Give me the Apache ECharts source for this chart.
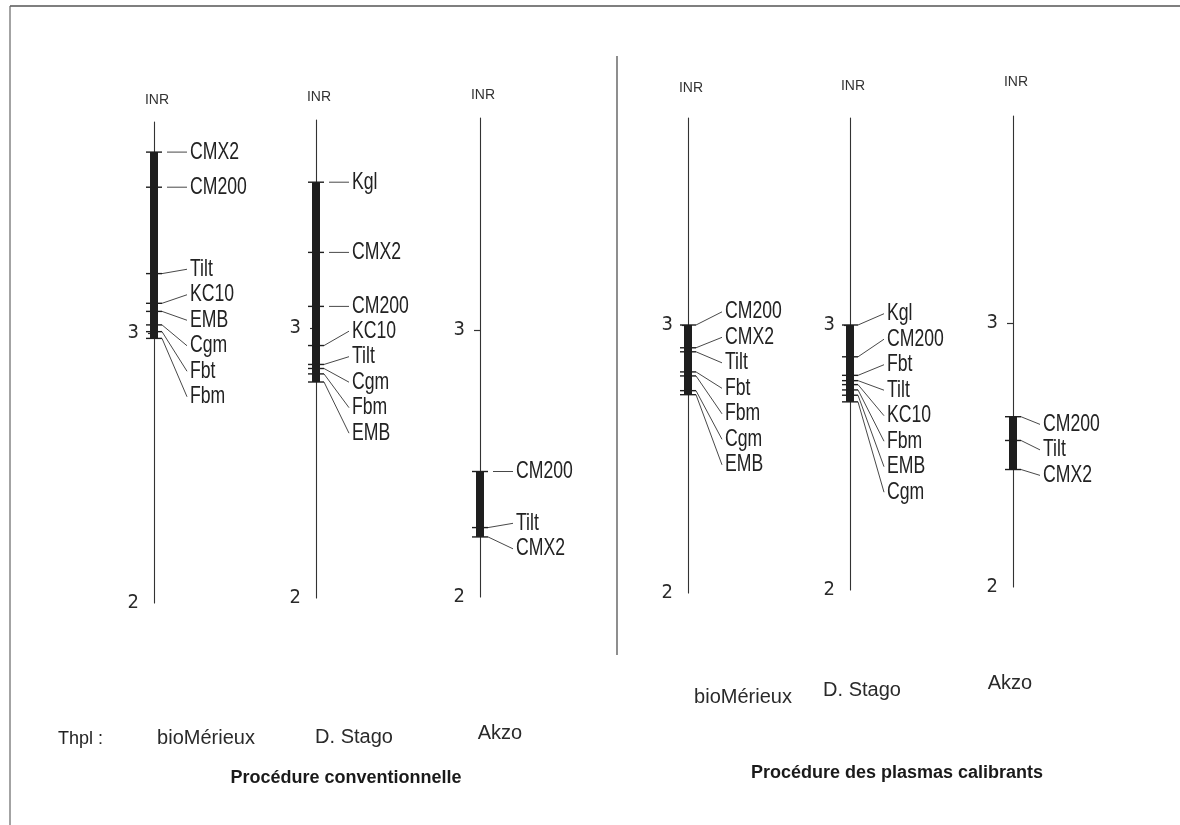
<!DOCTYPE html>
<html>
<head>
<meta charset="utf-8">
<title>INR - thromboplastines</title>
<script src="https://cdn.jsdelivr.net/npm/echarts@6/dist/echarts.min.js"></script>
<style>
  html, body { margin: 0; padding: 0; background: #fff; }
  #chart { width: 1180px; height: 825px; }
</style>
</head>
<body>
<div id="chart"></div>
<script>
// données (INR par réactif)
const thromboplastins = ['bioMérieux', 'D. Stago', 'Akzo'];
const procedures = ['Procédure conventionnelle', 'Procédure des plasmas calibrants'];
const tickValues = [2, 3];

const convBioNames = ['CMX2', 'CM200', 'Tilt', 'KC10', 'EMB', 'Cgm', 'Fbt', 'Fbm'];
const convBioInr = [3.67, 3.54, 3.22, 3.11, 3.08, 3.03, 3.005, 2.98];
const convStagoNames = ['Kgl', 'CMX2', 'CM200', 'KC10', 'Tilt', 'Cgm', 'Fbm', 'EMB'];
const convStagoInr = [3.54, 3.28, 3.08, 2.935, 2.865, 2.85, 2.83, 2.80];
const convAkzoNames = ['CM200', 'Tilt', 'CMX2'];
const convAkzoInr = [2.47, 2.26, 2.225];

const calBioNames = ['CM200', 'CMX2', 'Tilt', 'Fbt', 'Fbm', 'Cgm', 'EMB'];
const calBioInr = [3.00, 2.915, 2.90, 2.825, 2.81, 2.755, 2.74];
const calStagoNames = ['Kgl', 'CM200', 'Fbt', 'Tilt', 'KC10', 'Fbm', 'EMB', 'Cgm'];
const calStagoInr = [3.00, 2.88, 2.81, 2.79, 2.775, 2.755, 2.735, 2.71];
const calAkzoNames = ['CM200', 'Tilt', 'CMX2'];
const calAkzoInr = [2.645, 2.555, 2.445];

const panels = [
  { names: convBioNames, inr: convBioInr },
  { names: convStagoNames, inr: convStagoInr },
  { names: convAkzoNames, inr: convAkzoInr },
  { names: calBioNames, inr: calBioInr },
  { names: calStagoNames, inr: calStagoInr },
  { names: calAkzoNames, inr: calAkzoInr }
];

// mise en page (pixels) : position de chaque axe, le scan est un peu penché
const axisLayout = [
  { x: 154, top: 122, y3: 333, y2: 603, inrY: 100, labelDx: 36 },
  { x: 316, top: 120, y3: 328, y2: 598, inrY: 97, labelDx: 36 },
  { x: 480, top: 118, y3: 330, y2: 597, inrY: 95, labelDx: 36 },
  { x: 688, top: 118, y3: 325, y2: 593, inrY: 88, labelDx: 37 },
  { x: 850, top: 118, y3: 325, y2: 590, inrY: 86, labelDx: 37 },
  { x: 1013, top: 116, y3: 323, y2: 587, inrY: 82, labelDx: 30 }
];

const ink = '#1e1e1e';
const labelFont = '21px "Liberation Sans", Arial, sans-serif';
const narrowFonts = '"Liberation Sans Narrow", "DejaVu Sans Condensed", "Liberation Sans", sans-serif';
const LABEL_GAP = 25.5;

// étiquettes qui se chevauchent : on les regroupe et on les répartit (un peu vers le bas)
function spreadLabels(ys) {
  let clusters = ys.map(y => ({ sum: y, n: 1 }));
  const startOf = c => c.sum / c.n - 0.35 * (c.n - 1) * LABEL_GAP;
  let merged = true;
  while (merged) {
    merged = false;
    for (let i = 1; i < clusters.length; i++) {
      const prev = clusters[i - 1], cur = clusters[i];
      if (startOf(prev) + prev.n * LABEL_GAP > startOf(cur) + 1) {
        prev.sum += cur.sum;
        prev.n += cur.n;
        clusters.splice(i, 1);
        merged = true;
        break;
      }
    }
  }
  const out = [];
  clusters.forEach(c => {
    const s = startOf(c);
    for (let k = 0; k < c.n; k++) out.push(s + k * LABEL_GAP);
  });
  return out;
}

const grids = [], xAxes = [], yAxes = [], series = [];

panels.forEach((p, k) => {
  const L = axisLayout[k];
  grids.push({
    left: L.x, top: L.top, width: 60, height: L.y2 - L.top,
    containLabel: false, outerBoundsMode: 'none'
  });
  xAxes.push({ gridIndex: k, type: 'value', min: 0, max: 1, show: false });
  yAxes.push({
    gridIndex: k,
    type: 'value',
    min: 2,
    max: 2 + (L.y2 - L.top) / (L.y2 - L.y3),
    name: 'INR',
    nameLocation: 'end',
    nameGap: L.top - L.inrY - 7,
    nameTextStyle: { fontSize: 14, color: '#333', fontFamily: '"Liberation Sans", Arial, sans-serif', padding: [0, 0, 0, 6] },
    axisLine: { show: true, lineStyle: { color: '#333', width: 1.1 } },
    axisTick: { show: true, customValues: [3], length: 6, lineStyle: { color: '#333', width: 1.2 } },
    axisLabel: {
      customValues: tickValues,
      margin: 15,
      fontSize: 20,
      color: '#2a2a2a',
      fontFamily: narrowFonts
    },
    splitLine: { show: false }
  });

  const lo = Math.min.apply(null, p.inr);
  const hi = Math.max.apply(null, p.inr);

  // barre épaisse : étendue des INR
  series.push({
    type: 'custom',
    xAxisIndex: k,
    yAxisIndex: k,
    data: [[0, lo, hi]],
    encode: { x: 0, y: [1, 2] },
    silent: true,
    renderItem: (params, api) => {
      const a = api.coord([0, api.value(2)]);
      const b = api.coord([0, api.value(1)]);
      return {
        type: 'rect',
        shape: { x: a[0] - 4, y: a[1], width: 8, height: b[1] - a[1] },
        style: { fill: ink }
      };
    }
  });

  // repères + noms des réactifs
  series.push({
    type: 'custom',
    xAxisIndex: k,
    yAxisIndex: k,
    data: p.inr.map(v => [0, v]),
    encode: { x: 0, y: 1 },
    silent: true,
    renderItem: (params, api) => {
      const i = params.dataIndex;
      const ys = p.inr.map(v => api.coord([0, v])[1]);
      const labelYs = spreadLabels(ys);
      const pt = api.coord([0, api.value(1)]);
      const lx = pt[0] + L.labelDx;
      const ly = labelYs[i];
      const straight = Math.abs(ly - pt[1]) < 3;
      return {
        type: 'group',
        children: [
          {
            type: 'line',
            shape: { x1: pt[0] - 8, y1: pt[1], x2: pt[0] + 8, y2: pt[1] },
            style: { stroke: ink, lineWidth: 1.4 }
          },
          {
            type: 'line',
            shape: { x1: pt[0] + (straight ? 13 : 8), y1: pt[1], x2: lx - 3, y2: ly },
            style: { stroke: '#333', lineWidth: 0.9 }
          },
          {
            type: 'text',
            x: lx,
            y: ly,
            scaleX: 0.84,
            scaleY: 1.12,
            style: {
              x: 0, y: 0,
              text: p.names[i],
              font: labelFont,
              fill: '#222',
              verticalAlign: 'middle',
              align: 'left'
            }
          }
        ]
      };
    }
  });
});

// textes du bas et cadre du scan
const catLeft = [[206, 738], [354, 737], [500, 733]];
const catRight = [[743, 697], [862, 690], [1010, 683]];
const graphic = [
  { type: 'line', shape: { x1: 10, y1: 6, x2: 1180, y2: 6 }, style: { stroke: '#555', lineWidth: 1.5 } },
  { type: 'line', shape: { x1: 10, y1: 6, x2: 10, y2: 825 }, style: { stroke: '#666', lineWidth: 1.2 } },
  { type: 'line', shape: { x1: 617, y1: 56, x2: 617, y2: 655 }, style: { stroke: '#444', lineWidth: 1.2 } },
  {
    type: 'text', x: 58, y: 739,
    style: { text: 'Thpl :', font: '18px "Liberation Sans", Arial, sans-serif', fill: '#222', verticalAlign: 'middle' }
  }
];
thromboplastins.forEach((t, i) => {
  [catLeft[i], catRight[i]].forEach(pos => {
    graphic.push({
      type: 'text', x: pos[0], y: pos[1],
      style: { text: t, font: '20px "Liberation Sans", Arial, sans-serif', fill: '#2a2a2a', align: 'center', verticalAlign: 'middle' }
    });
  });
});
[[346, 778], [897, 773]].forEach((pos, i) => {
  graphic.push({
    type: 'text', x: pos[0], y: pos[1],
    style: { text: procedures[i], font: 'bold 18px "Liberation Sans", Arial, sans-serif', fill: '#1a1a1a', align: 'center', verticalAlign: 'middle' }
  });
});

const chart = echarts.init(document.getElementById('chart'));
chart.setOption({
  backgroundColor: '#fff',
  animation: false,
  grid: grids,
  xAxis: xAxes,
  yAxis: yAxes,
  series: series,
  graphic: graphic
});
</script>
</body>
</html>
